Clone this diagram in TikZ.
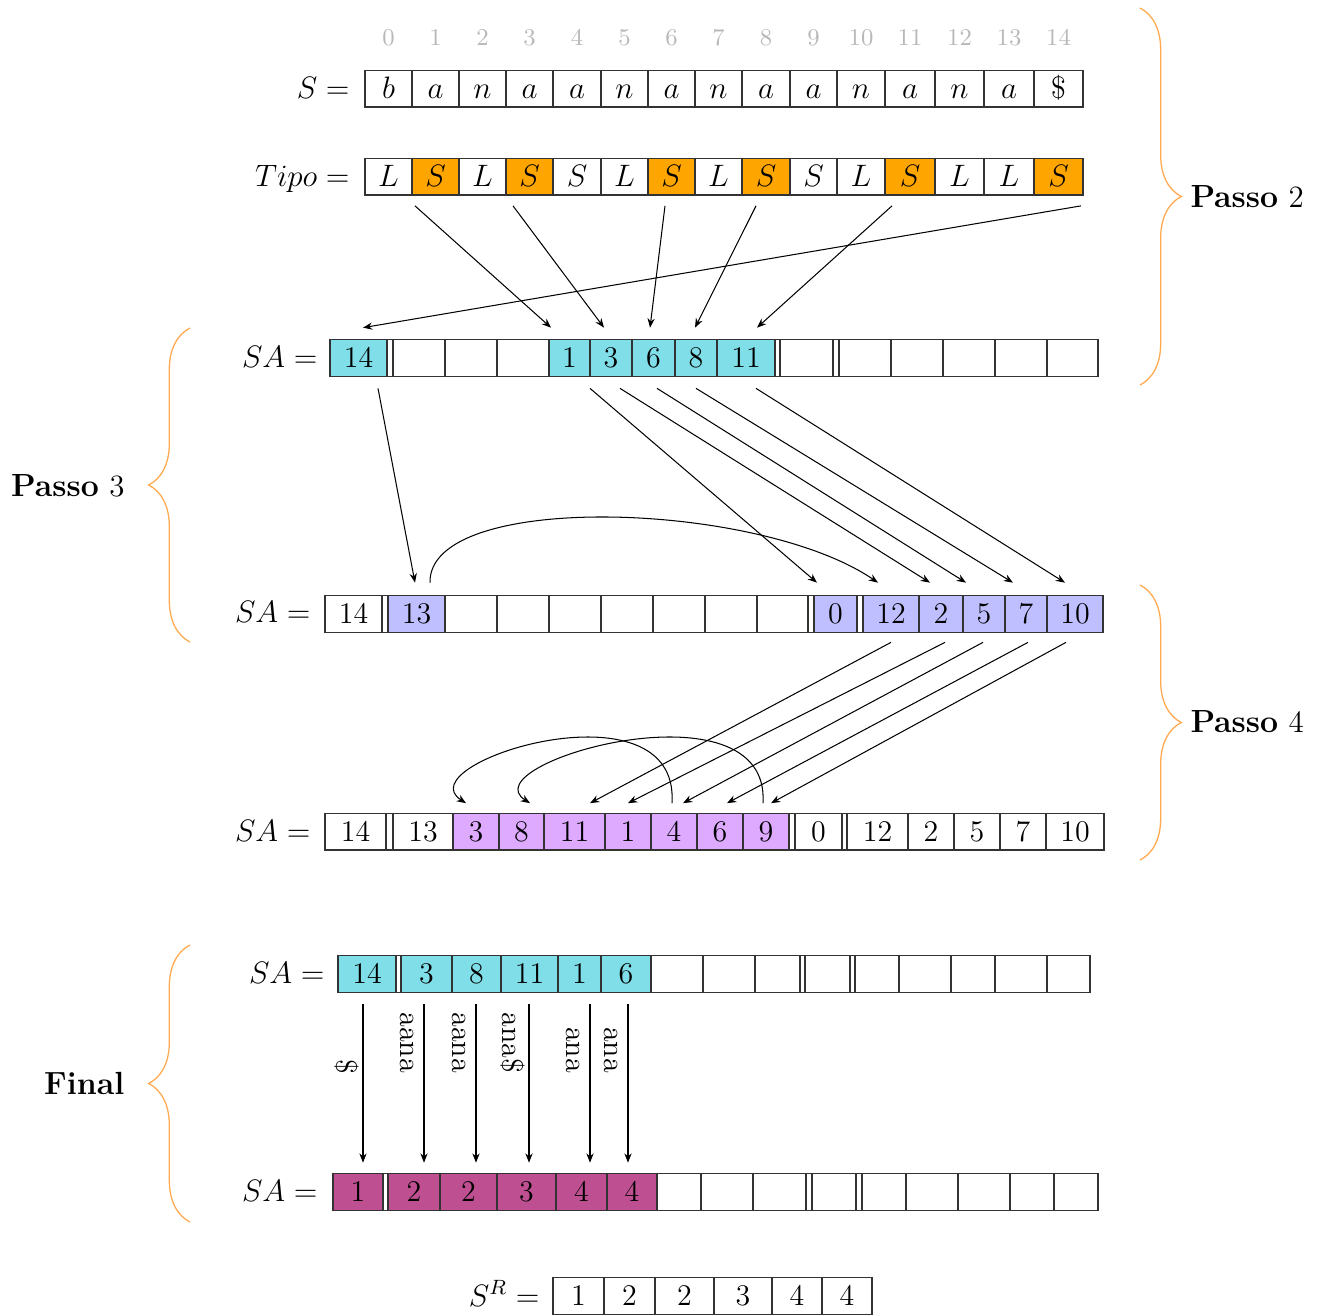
\documentclass[tikz,border=0pt]{standalone}
\usetikzlibrary{arrows.meta,decorations.pathreplacing,calc}
\definecolor{cyanc}{RGB}{128,222,232}
\definecolor{bluec}{RGB}{191,191,255}
\definecolor{violc}{RGB}{222,170,255}
\definecolor{magc}{RGB}{190,80,145}
\definecolor{orc}{RGB}{255,165,0}
\definecolor{bracec}{RGB}{255,170,80}
\begin{document}
\begin{tikzpicture}[x=0.387pt,y=-0.387pt, font=\fontsize{11.6}{14}\selectfont,
  cell/.style={draw=black!80, line width=0.5pt, minimum height=14.2pt, inner sep=0pt, outer sep=0pt, text height=7.4pt, text depth=0pt},
  idx/.style={text=black!28, font=\fontsize{9.3}{11}\selectfont, anchor=base, inner sep=0pt},
  lab/.style={anchor=base east, inner sep=0pt},
  arr/.style={-{Stealth[length=3.6pt,width=2.8pt]}, line width=0.4pt},
  brc/.style={draw=bracec, line width=0.5pt, decorate, decoration={brace, amplitude=16pt}},
  passo/.style={font=\fontsize{12.4}{15}\selectfont, inner sep=0pt},
  rl/.style={rotate=-90, anchor=east, inner sep=0pt}
]
\useasboundingbox (0,0) rectangle (1323,1315);

% ---------- S row ----------
\foreach \lo/\ro/\tx/\nm in {365/412/$b$/s0, 412/459/$a$/s1, 459/506/$n$/s2, 506/553/$a$/s3, 553/601/$a$/s4, 601/648/$n$/s5, 648/695/$a$/s6, 695/742/$n$/s7, 742/790/$a$/s8, 790/837/$a$/s9, 837/885/$n$/s10, 885/935/$a$/s11, 935/984/$n$/s12, 984/1034/$a$/s13, 1034/1083/$\$$/s14}
  \node[cell, fill=white, minimum width={(\ro-\lo)*0.387pt}] (\nm) at ({(\lo+\ro)/2},88.5) {\tx};
\foreach \k in {0,...,14}
  \path (s\k.center) ++(0,-43) node[idx] (i\k) {\k};
\node[lab] (lS) at (350,98) {$S =$};

% ---------- Tipo row ----------
\foreach \lo/\ro/\tx/\fc/\nm in {365/412/L/white/t0, 412/459/S/orc/t1, 459/506/L/white/t2, 506/553/S/orc/t3, 553/601/S/white/t4, 601/648/L/white/t5, 648/695/S/orc/t6, 695/742/L/white/t7, 742/790/S/orc/t8, 790/837/S/white/t9, 837/885/L/white/t10, 885/935/S/orc/t11, 935/984/L/white/t12, 984/1034/L/white/t13, 1034/1083/S/orc/t14}
  \node[cell, fill=\fc, minimum width={(\ro-\lo)*0.387pt}] (\nm) at ({(\lo+\ro)/2},176.5) {$\tx$};
\node[lab] (lT) at (350,186) {$Tipo =$};

% ---------- SA row 1 ----------
\foreach \lo/\ro/\tx/\fc/\nm in {330/387/14/cyanc/a0, 387/393//white/a0g, 393/445//white/a1, 445/497//white/a2, 497/549//white/a3, 549/590/1/cyanc/a4, 590/632/3/cyanc/a5, 632/675/6/cyanc/a6, 675/717/8/cyanc/a7, 717/775/11/cyanc/a8, 775/780//white/a8g, 780/833//white/a9, 833/839//white/a9g, 839/891//white/a10, 891/943//white/a11, 943/995//white/a12, 995/1047//white/a13, 1047/1098//white/a14}
  \node[cell, fill=\fc, minimum width={(\ro-\lo)*0.387pt}] (\nm) at ({(\lo+\ro)/2},358) {\tx};
\node[lab] (lA) at (318,367) {$SA =$};

% ---------- SA row 2 ----------
\foreach \lo/\ro/\tx/\fc/\nm in {325/382/14/white/b0, 382/388//white/b0g, 388/445/13/bluec/b1, 445/497//white/b2, 497/549//white/b3, 549/601//white/b4, 601/653//white/b5, 653/705//white/b6, 705/757//white/b7, 757/808//white/b8, 808/814//white/b8g, 814/857/0/bluec/b9, 857/863//white/b9g, 863/919/12/bluec/b10, 919/963/2/bluec/b11, 963/1005/5/bluec/b12, 1005/1047/7/bluec/b13, 1047/1103/10/bluec/b14}
  \node[cell, fill=\fc, minimum width={(\ro-\lo)*0.387pt}] (\nm) at ({(\lo+\ro)/2},614) {\tx};
\node[lab] (lB) at (311,622) {$SA =$};

% ---------- SA row 3 ----------
\foreach \lo/\ro/\tx/\fc/\nm in {325/386/14/white/c0, 386/393//white/c0g, 393/453/13/white/c1, 453/499/3/violc/c2, 499/544/8/violc/c3, 544/605/11/violc/c4, 605/651/1/violc/c5, 651/697/4/violc/c6, 697/743/6/violc/c7, 743/789/9/violc/c8, 789/795//white/c8g, 795/842/0/white/c9, 842/847//white/c9g, 847/908/12/white/c10, 908/954/2/white/c11, 954/1000/5/white/c12, 1000/1046/7/white/c13, 1046/1104/10/white/c14}
  \node[cell, fill=\fc, minimum width={(\ro-\lo)*0.387pt}] (\nm) at ({(\lo+\ro)/2},831.5) {\tx};
\node[lab] (lC) at (311,841) {$SA =$};

% ---------- SA row 4 ----------
\foreach \lo/\ro/\tx/\fc/\nm in {338/396/14/cyanc/d0, 396/401//white/d0g, 401/452/3/cyanc/d1, 452/501/8/cyanc/d2, 501/558/11/cyanc/d3, 558/601/1/cyanc/d4, 601/651/6/cyanc/d5, 651/703//white/d6, 703/755//white/d7, 755/800//white/d8, 800/805//white/d8g, 805/850//white/d9, 850/855//white/d9g, 855/899//white/d10, 899/951//white/d11, 951/995//white/d12, 995/1047//white/d13, 1047/1090//white/d14}
  \node[cell, fill=\fc, minimum width={(\ro-\lo)*0.387pt}] (\nm) at ({(\lo+\ro)/2},974) {\tx};
\node[lab] (lD) at (325,983) {$SA =$};

% ---------- SA row 5 ----------
\foreach \lo/\ro/\tx/\fc/\nm in {333/383/1/magc/e0, 383/388//white/e0g, 388/440/2/magc/e1, 440/497/2/magc/e2, 497/556/3/magc/e3, 556/607/4/magc/e4, 607/657/4/magc/e5, 657/701//white/e6, 701/753//white/e7, 753/806//white/e8, 806/812//white/e8g, 812/856//white/e9, 856/862//white/e9g, 862/906//white/e10, 906/958//white/e11, 958/1010//white/e12, 1010/1054//white/e13, 1054/1098//white/e14}
  \node[cell, fill=\fc, minimum width={(\ro-\lo)*0.387pt}] (\nm) at ({(\lo+\ro)/2},1192) {\tx};
\node[lab] (lE) at (318,1201) {$SA =$};

% ---------- S^R row ----------
\foreach \lo/\ro/\tx/\nm in {553/604/1/r0, 604/655/2/r1, 655/714/2/r2, 714/772/3/r3, 772/822/4/r4, 822/872/4/r5}
  \node[cell, fill=white, minimum width={(\ro-\lo)*0.387pt}] (\nm) at ({(\lo+\ro)/2},1296) {\tx};
\node[lab] (lR) at (540,1306) {$S^R =$};

% ---------- Passo 2 arrows ----------
\draw[arr] ([shift={(-20.5,11)}]t1.south) -- ([shift={(-18.5,-12)}]a4.north);
\draw[arr] ([shift={(-16.5,11)}]t3.south) -- ([shift={(-7,-12)}]a5.north);
\draw[arr] ([shift={(-6.5,11)}]t6.south) -- ([shift={(-3.5,-12)}]a6.north);
\draw[arr] ([shift={(-10,11)}]t8.south) -- ([shift={(-1,-12)}]a7.north);
\draw[arr] ([shift={(-18,11)}]t11.south) -- ([shift={(11,-12)}]a8.north);
\draw[arr] ([shift={(22.5,11)}]t14.south) -- ([shift={(4.5,-12)}]a0.north);

% ---------- Passo 3 arrows ----------
\draw[arr] ([shift={(19.5,12)}]a0.south) -- ([shift={(-1.5,-13)}]b1.north);
\draw[arr] ([shift={(20.5,12)}]a4.south) -- ([shift={(-18.5,-13)}]b9.north);
\draw[arr] ([shift={(9,12)}]a5.south) -- ([shift={(-11,-13)}]b11.north);
\draw[arr] ([shift={(3.5,12)}]a6.south) -- ([shift={(-18,-13)}]b12.north);
\draw[arr] ([shift={(0,12)}]a7.south) -- ([shift={(-13,-13)}]b13.north);
\draw[arr] ([shift={(10,12)}]a8.south) -- ([shift={(-10,-13)}]b14.north);
\draw[arr] ([shift={(13.5,-13)}]b1.north) .. controls +(-2,-92) and +(-120,-82) .. ([shift={(-13,-13)}]b10.north);

% ---------- Passo 4 arrows ----------
\draw[arr] ([shift={(0,10)}]b10.south) -- ([shift={(15.5,-10)}]c4.north);
\draw[arr] ([shift={(4,10)}]b11.south) -- ([shift={(0,-10)}]c5.north);
\draw[arr] ([shift={(-1,10)}]b12.south) -- ([shift={(9,-10)}]c6.north);
\draw[arr] ([shift={(2,10)}]b13.south) -- ([shift={(7,-10)}]c7.north);
\draw[arr] ([shift={(-9,10)}]b14.south) -- ([shift={(5,-10)}]c8.north);
\draw[arr] ([shift={(-2,-10)}]c6.north) .. controls +(8,-126) and +(-62,-40) .. ([shift={(-10,-10)}]c2.north);
\draw[arr] ([shift={(-3,-10)}]c8.north) .. controls +(8,-126) and +(-62,-40) .. ([shift={(8.5,-10)}]c3.north);

% ---------- Final arrows ----------
\coordinate (f1) at ([shift={(-4,12)}]d0.south);
\coordinate (f2) at ([shift={(-2.5,12)}]d1.south);
\coordinate (f3) at ([shift={(-0.5,12)}]d2.south);
\coordinate (f4) at ([shift={(-0.5,12)}]d3.south);
\coordinate (f5) at ([shift={(10.5,12)}]d4.south);
\coordinate (f6) at ([shift={(2,12)}]d5.south);
\draw[arr] (f1) -- ([shift={(5,-11)}]e0.north);
\draw[arr] (f2) -- ([shift={(10,-11)}]e1.north);
\draw[arr] (f3) -- ([shift={(7.5,-11)}]e2.north);
\draw[arr] (f4) -- ([shift={(2.5,-11)}]e3.north);
\draw[arr] (f5) -- ([shift={(8.5,-11)}]e4.north);
\draw[arr] (f6) -- ([shift={(-4,-11)}]e5.north);
\node[rl] (w1) at ([shift={(-16.5,70)}]f1) {\$};
\node[rl] (w2) at ([shift={(-16.5,69)}]f2) {aana};
\node[rl] (w3) at ([shift={(-16.5,69)}]f3) {aana};
\node[rl] (w4) at ([shift={(-16.5,69)}]f4) {ana\$};
\node[rl] (w5) at ([shift={(-16.5,69)}]f5) {ana};
\node[rl] (w6) at ([shift={(-16.5,69)}]f6) {ana};

% ---------- Braces ----------
\draw[brc] (1140,8) -- (1140,385);
\draw[brc] (190,642) -- (190,328);
\draw[brc] (1140,585) -- (1140,860);
\draw[brc] (190,1222) -- (190,945);
\node[passo, anchor=west] (p2) at (1190,197) {\textbf{Passo} $2$};
\node[passo, anchor=east] (p3) at (125,486) {\textbf{Passo} $3$};
\node[passo, anchor=west] (p4) at (1190,722) {\textbf{Passo} $4$};
\node[passo, anchor=east] (pf) at (125,1083) {\textbf{Final}};
\end{tikzpicture}
\end{document}
